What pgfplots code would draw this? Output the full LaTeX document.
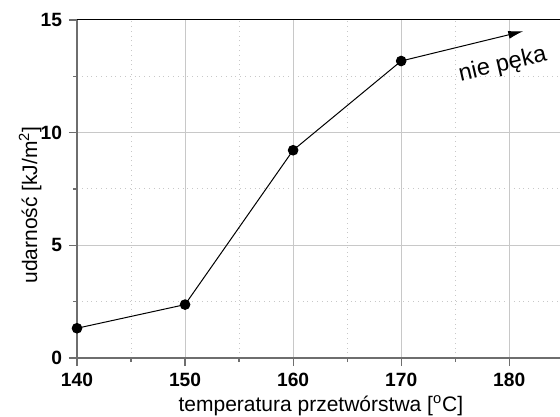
\documentclass[border=0pt]{standalone}
\usepackage{fontspec}
\setmainfont{Liberation Sans}
\usepackage{pgfplots}
\pgfplotsset{compat=1.18}
\usetikzlibrary{arrows.meta}
\definecolor{axisgray}{HTML}{6E6E6E}
\definecolor{gridgray}{HTML}{C8C8C8}
\begin{document}
\begin{tikzpicture}
\begin{axis}[
    name=ax,
    scale only axis,
    width=241.5pt, height=169pt,
    xmin=140, xmax=184.7,
    ymin=0, ymax=15,
    xtick={140,150,...,180},
    ytick={0,5,10,15},
    minor xtick={145,155,165,175},
    minor ytick={2.5,7.5,12.5},
    axis lines*=left,
    tick align=outside,
    major tick length=4pt,
    minor tick length=2pt,
    every tick/.style={axisgray, line width=0.6pt},
    axis line style={axisgray, line width=0.8pt},
    grid=both,
    major grid style={gridgray, line width=0.5pt},
    minor grid style={gridgray, dotted, line width=0.5pt},
    /pgf/number format/assume math mode=true,
    ticklabel style={font=\bfseries\fontsize{9.6}{11}\selectfont},
    xlabel={temperatura przetwórstwa [\textsuperscript{o}C]},
    ylabel={udarność [kJ/m\textsuperscript{2}]},
    label style={font=\fontsize{10.5}{12}\selectfont},
    xlabel style={at={(axis description cs:0.505,-0.14)}, anchor=center},
    ylabel style={at={(axis description cs:-0.097,0.453)}, anchor=center},
]
\addplot[black, line width=0.5pt, mark=*, mark size=2.4pt] coordinates {
    (140,1.32) (150,2.37) (160,9.22) (170,13.18)
};
\addplot[black, line width=0.5pt, -{Latex[length=7.5pt,width=4pt]}] coordinates {
    (170,13.18) (181.3,14.5)
};
\node[rotate=13, font=\fontsize{11.8}{13}\selectfont] at (axis cs:179.4,13.0) {nie pęka};
\end{axis}
\draw[black, line width=0.5pt] (ax.north west) -- (ax.north east);
\pgfresetboundingbox
\path[use as bounding box] ([xshift=-38.5pt,yshift=-29pt]ax.south west) rectangle ([yshift=10pt]ax.north east);
\end{tikzpicture}
\end{document}
